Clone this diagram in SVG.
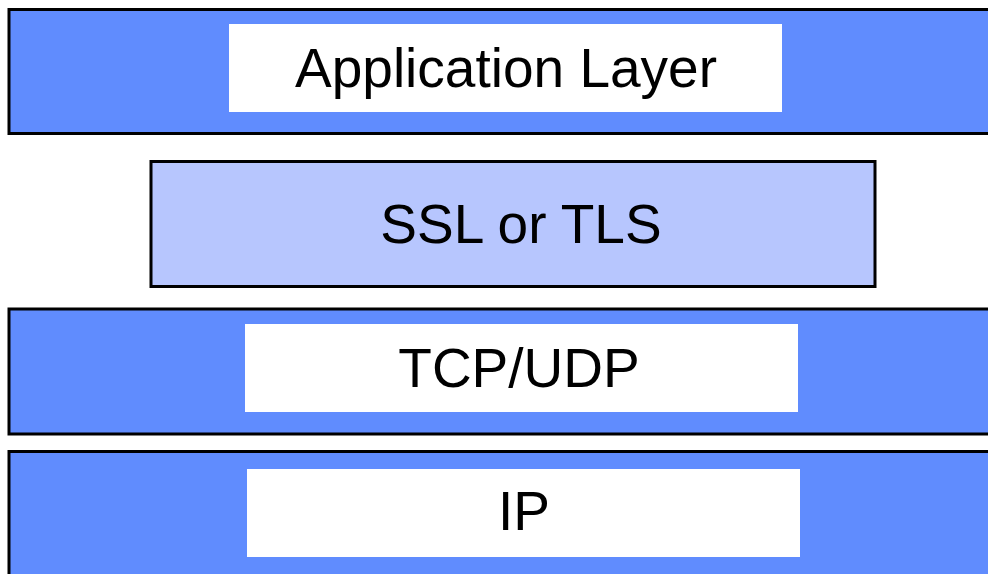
<svg xmlns="http://www.w3.org/2000/svg" width="988" height="574" viewBox="0 0 988 574">
<style>
.layer{fill:#608cfe;stroke:#000;stroke-width:3}
.ssl{fill:#b7c6fe;stroke:#000;stroke-width:3}
.label{fill:#fff}
.t{font-family:"Liberation Sans",Arial,sans-serif;font-size:55px;fill:#000;text-anchor:middle}
</style>
<rect width="988" height="574" fill="#fff"/>
<g id="app">
<rect class="layer" x="9" y="9.5" width="990" height="124"/>
<rect class="label" x="229" y="24" width="553" height="88"/>
<text class="t" x="506" y="87">Application Layer</text>
</g>
<g id="ssl">
<rect class="ssl" x="151" y="161.5" width="724" height="125"/>
<text class="t" x="521" y="243">SSL or TLS</text>
</g>
<g id="tcp">
<rect class="layer" x="9" y="309" width="990" height="125"/>
<rect class="label" x="245" y="324" width="553" height="88"/>
<text class="t" x="519" y="387">TCP/UDP</text>
</g>
<g id="ip">
<rect class="layer" x="9" y="451.5" width="990" height="140"/>
<rect class="label" x="247" y="469" width="553" height="88"/>
<text class="t" x="524" y="530">IP</text>
</g>
<g id="connectors"/>
</svg>
